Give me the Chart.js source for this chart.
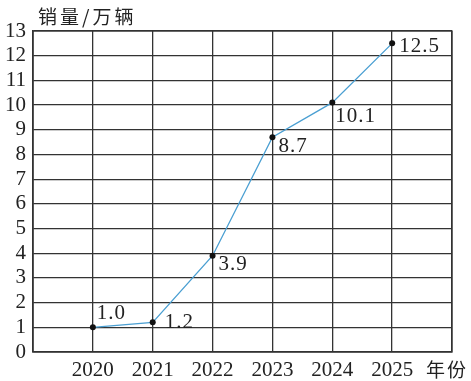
<!DOCTYPE html>
<html>
<head>
<meta charset="utf-8">
<script src="https://cdn.jsdelivr.net/npm/chart.js@4/dist/chart.umd.min.js"></script>
<style>
html,body{margin:0;padding:0;background:#fff;}
#wrap{width:471px;height:381px;}
</style>
</head>
<body>
<div id="wrap"><canvas id="c" width="471" height="381"></canvas></div>
<script>
const categories = ['', '2020', '2021', '2022', '2023', '2024', '2025', ''];
const sales = [null, 1.0, 1.2, 3.9, 8.7, 10.1, 12.5, null];
const valueLabels = ['', '1.0', '1.2', '3.9', '8.7', '10.1', '12.5', ''];
const yTicks = [0,1,2,3,4,5,6,7,8,9,10,11,12,13];
const yTitle = '销量/万辆';
const xTitle = '年份';

// label placement relative to the point (pixels)
const labelOffsets = [null,[4,-14],[12,0],[6,9],[6,9],[3,14],[7,3],null];

const serif = '"Liberation Serif", "DejaVu Serif", serif';
const cjk = '"Noto Sans CJK SC", sans-serif';
const gridColor = '#333';

const labelPlugin = {
  id: 'labels',
  beforeDraw(chart) {
    chart.ctx.letterSpacing = '0px';
  },
  afterDatasetsDraw(chart) {
    const ctx = chart.ctx;
    const meta = chart.getDatasetMeta(0);
    ctx.save();
    ctx.fillStyle = '#222';
    ctx.font = '21px ' + serif;
    ctx.textAlign = 'left';
    ctx.textBaseline = 'middle';
    ctx.letterSpacing = '1px';
    meta.data.forEach((pt, i) => {
      if (sales[i] == null) return;
      const off = labelOffsets[i];
      ctx.fillText(valueLabels[i], pt.x + off[0], pt.y + off[1]);
    });
    const ca = chart.chartArea;
    ctx.font = '19px ' + cjk;
    ctx.letterSpacing = '3px';
    ctx.fillText(yTitle, ca.left + 5, 17);
    ctx.letterSpacing = '2px';
    ctx.fillText(xTitle, ca.right - 26, 370);
    ctx.restore();
  }
};

new Chart(document.getElementById('c'), {
  type: 'line',
  data: {
    labels: categories,
    datasets: [{
      data: sales,
      borderColor: '#4a9fd2',
      borderWidth: 1.3,
      pointRadius: 3,
      pointBackgroundColor: '#111',
      pointBorderColor: '#111',
      pointBorderWidth: 0,
      tension: 0,
      spanGaps: false
    }]
  },
  options: {
    responsive: false,
    animation: false,
    devicePixelRatio: 1,
    layout: { padding: { top: 31, right: 19, left: 0, bottom: 0 } },
    plugins: { legend: { display: false }, tooltip: { enabled: false } },
    scales: {
      x: {
        offset: false,
        grid: { color: gridColor, lineWidth: 1.3, drawTicks: false },
        border: { color: gridColor, width: 1.3 },
        ticks: { color: '#222', font: { family: serif, size: 21 }, padding: 6, maxRotation: 0, autoSkip: false },
        afterFit(s) { s.height = 29; }
      },
      y: {
        min: 0, max: 13,
        afterBuildTicks(s) { s.ticks = yTicks.map(v => ({ value: v })); },
        grid: { color: gridColor, lineWidth: 1.3, drawTicks: false },
        border: { color: gridColor, width: 1.3 },
        ticks: { color: '#222', font: { family: serif, size: 21, lineHeight: 1 }, padding: 7, autoSkip: false },
        afterFit(s) { s.width = 33; }
      }
    }
  },
  plugins: [labelPlugin, {
    id: 'frame',
    afterDraw(chart) {
      const ca = chart.chartArea, ctx = chart.ctx;
      ctx.save();
      ctx.strokeStyle = gridColor; ctx.lineWidth = 1.3;
      ctx.strokeRect(ca.left, ca.top, ca.right - ca.left, ca.bottom - ca.top);
      ctx.restore();
    }
  }]
});
</script>
</body>
</html>
